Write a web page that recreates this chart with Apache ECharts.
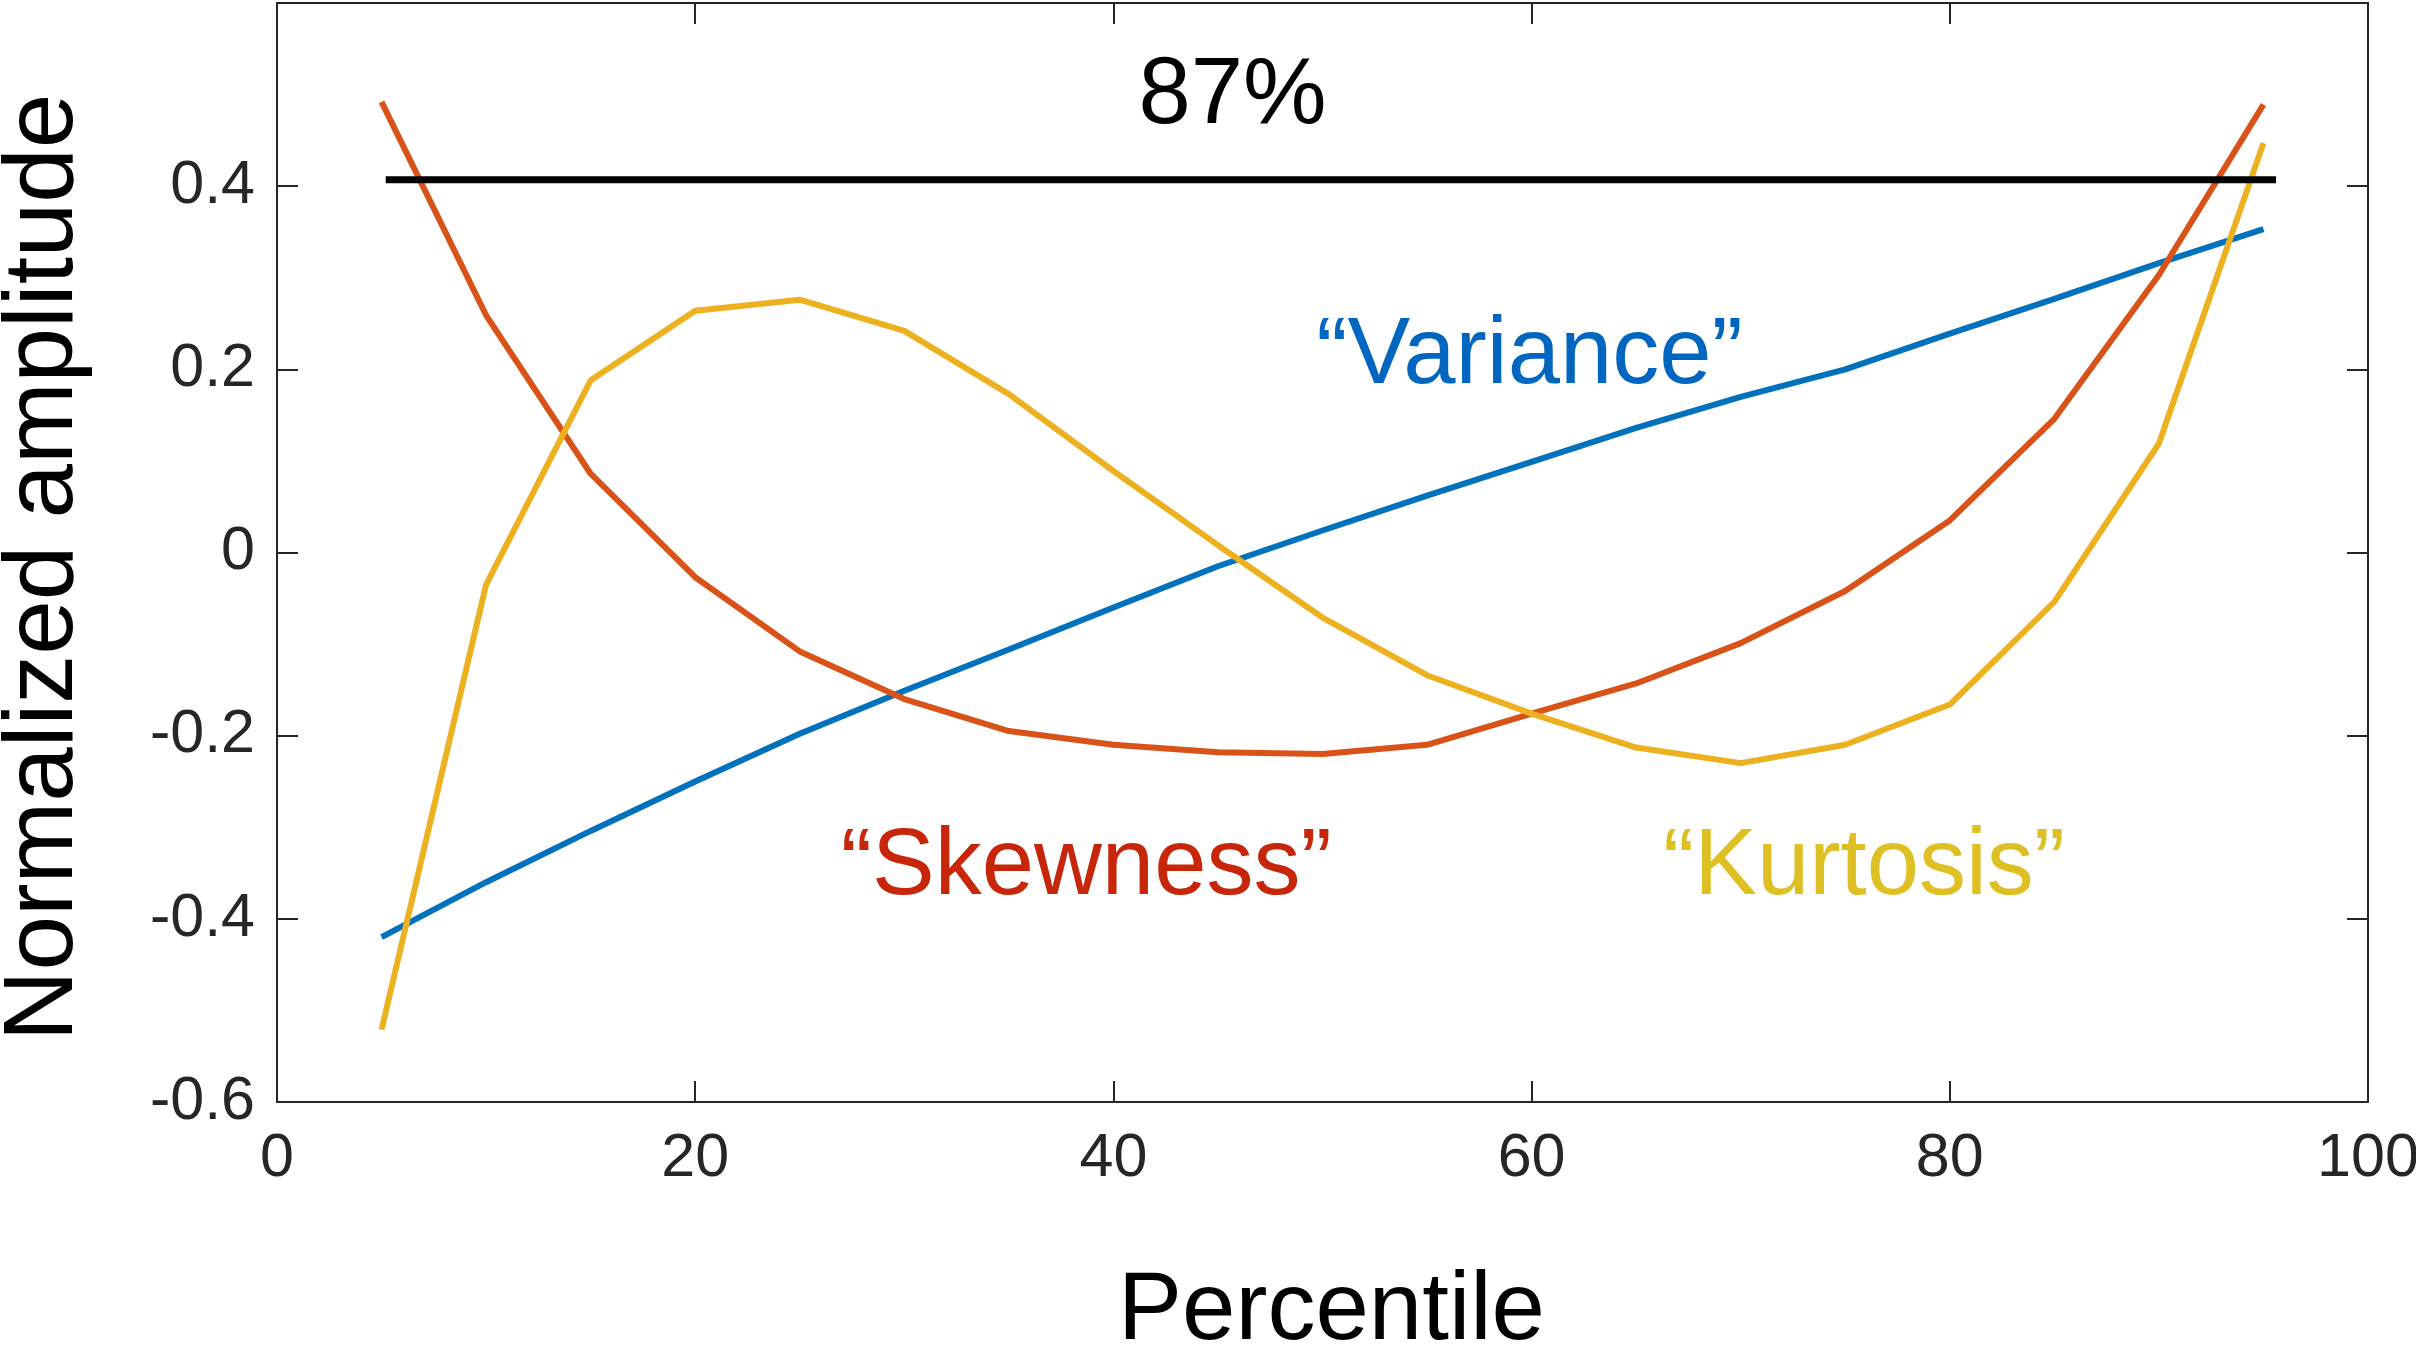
<!DOCTYPE html>
<html>
<head>
<meta charset="utf-8">
<script src="https://cdn.jsdelivr.net/npm/echarts@6/dist/echarts.min.js"></script>
<style>
html,body{margin:0;padding:0;background:#fff;}
#chart{width:2416px;height:1353px;}
</style>
</head>
<body>
<div id="chart"></div>
<script>
// Percentile positions
const percentiles = [5,10,15,20,25,30,35,40,45,50,55,60,65,70,75,80,85,90,95];
// "Variance" component
const variance = [-0.42,-0.36,-0.304,-0.25,-0.198,-0.151,-0.106,-0.06,-0.015,0.024,0.062,0.099,0.136,0.17,0.2,0.239,0.277,0.316,0.353];
// "Skewness" component
const skewness = [0.492,0.259,0.086,-0.027,-0.108,-0.16,-0.195,-0.21,-0.218,-0.22,-0.21,-0.176,-0.143,-0.099,-0.042,0.035,0.146,0.303,0.489];
// "Kurtosis" component
const kurtosis = [-0.521,-0.035,0.188,0.264,0.276,0.242,0.173,0.089,0.008,-0.071,-0.134,-0.176,-0.213,-0.23,-0.21,-0.166,-0.054,0.119,0.447];
// 87% reference line
const refLineX = [5.2, 95.6];
const refLineY = 0.407;
// Annotations: text, x, y
const annoText = ['87%', '\u201cVariance\u201d', '\u201cSkewness\u201d', '\u201cKurtosis\u201d'];
const annoX = [45.7, 59.9, 38.7, 75.9];
const annoY = [0.497, 0.213, -0.345, -0.345];
const annoColor = ['#000000', '#0066c0', '#c8260a', '#dfc024'];
// Axis ticks
const xTicks = [0, 20, 40, 60, 80, 100];
const yTicks = [-0.6, -0.4, -0.2, 0, 0.2, 0.4];

const FONT = '"Liberation Sans", Helvetica, Arial, sans-serif';
const AX = '#262626';

function pairs(xs, ys){ return xs.map((x,i)=>[x, ys[i]]); }

const chart = echarts.init(document.getElementById('chart'), null, {renderer:'canvas'});

const tickCommon = {show:true, inside:true, length:21, lineStyle:{color:AX, width:2}};
const lineCommon = {show:true, onZero:false, lineStyle:{color:AX, width:2}};

const option = {
  backgroundColor:'#ffffff',
  animation:false,
  grid:{left:277, right:48, top:3, bottom:251, containLabel:false, outerBoundsMode:'none'},
  xAxis:[{
    type:'value', min:0, max:100, interval:20, position:'bottom',
    axisLine:lineCommon, axisTick:tickCommon, splitLine:{show:false},
    axisLabel:{show:true, fontSize:61, color:AX, fontFamily:FONT, margin:27,
      formatter:v => xTicks.includes(v) ? String(v) : ''},
    name:'Percentile', nameLocation:'middle', nameGap:163,
    nameTextStyle:{fontSize:96, color:'#000', fontFamily:FONT, padding:[0,0,0,18]}
  },{
    type:'value', min:0, max:100, interval:20, position:'top',
    axisLine:lineCommon, axisTick:tickCommon, splitLine:{show:false}, axisLabel:{show:false}
  }],
  yAxis:[{
    type:'value', min:-0.6, max:0.6, interval:0.2, position:'left',
    axisLine:lineCommon, axisTick:tickCommon, splitLine:{show:false},
    axisLabel:{show:true, fontSize:61, color:AX, fontFamily:FONT, margin:22,
      formatter:v => { const r = Math.round(v*10)/10; return yTicks.some(t=>Math.abs(t-r)<1e-9) ? String(r) : ''; }},
    name:'Normalized amplitude', nameLocation:'middle', nameGap:183,
    nameTextStyle:{fontSize:98, color:'#000', fontFamily:FONT, padding:[0,30,0,0]}
  },{
    type:'value', min:-0.6, max:0.6, interval:0.2, position:'right',
    axisLine:lineCommon, axisTick:tickCommon, splitLine:{show:false}, axisLabel:{show:false}
  }],
  series:[
    {name:'Variance', type:'line', data:pairs(percentiles, variance), showSymbol:false, symbol:'none',
     lineStyle:{color:'#0072bd', width:6}, z:3},
    {name:'Skewness', type:'line', data:pairs(percentiles, skewness), showSymbol:false, symbol:'none',
     lineStyle:{color:'#d95319', width:6}, z:3},
    {name:'Kurtosis', type:'line', data:pairs(percentiles, kurtosis), showSymbol:false, symbol:'none',
     lineStyle:{color:'#edb120', width:6}, z:3},
    {name:'87%', type:'line', data:refLineX.map(x=>[x, refLineY]), showSymbol:false, symbol:'none',
     lineStyle:{color:'#000', width:7}, z:4},
    {name:'annotations', type:'scatter', symbolSize:0, silent:true, z:5,
     itemStyle:{opacity:1},
     data:annoText.map((t,i)=>({value:[annoX[i], annoY[i]],
       itemStyle:{opacity:1, color:annoColor[i]},
       label:{show:true, position:'inside', formatter:t, fontSize:94, color:annoColor[i],
              fontFamily:FONT, opacity:1, textBorderWidth:0}}))
    }
  ]
};
chart.setOption(option);
</script>
</body>
</html>
